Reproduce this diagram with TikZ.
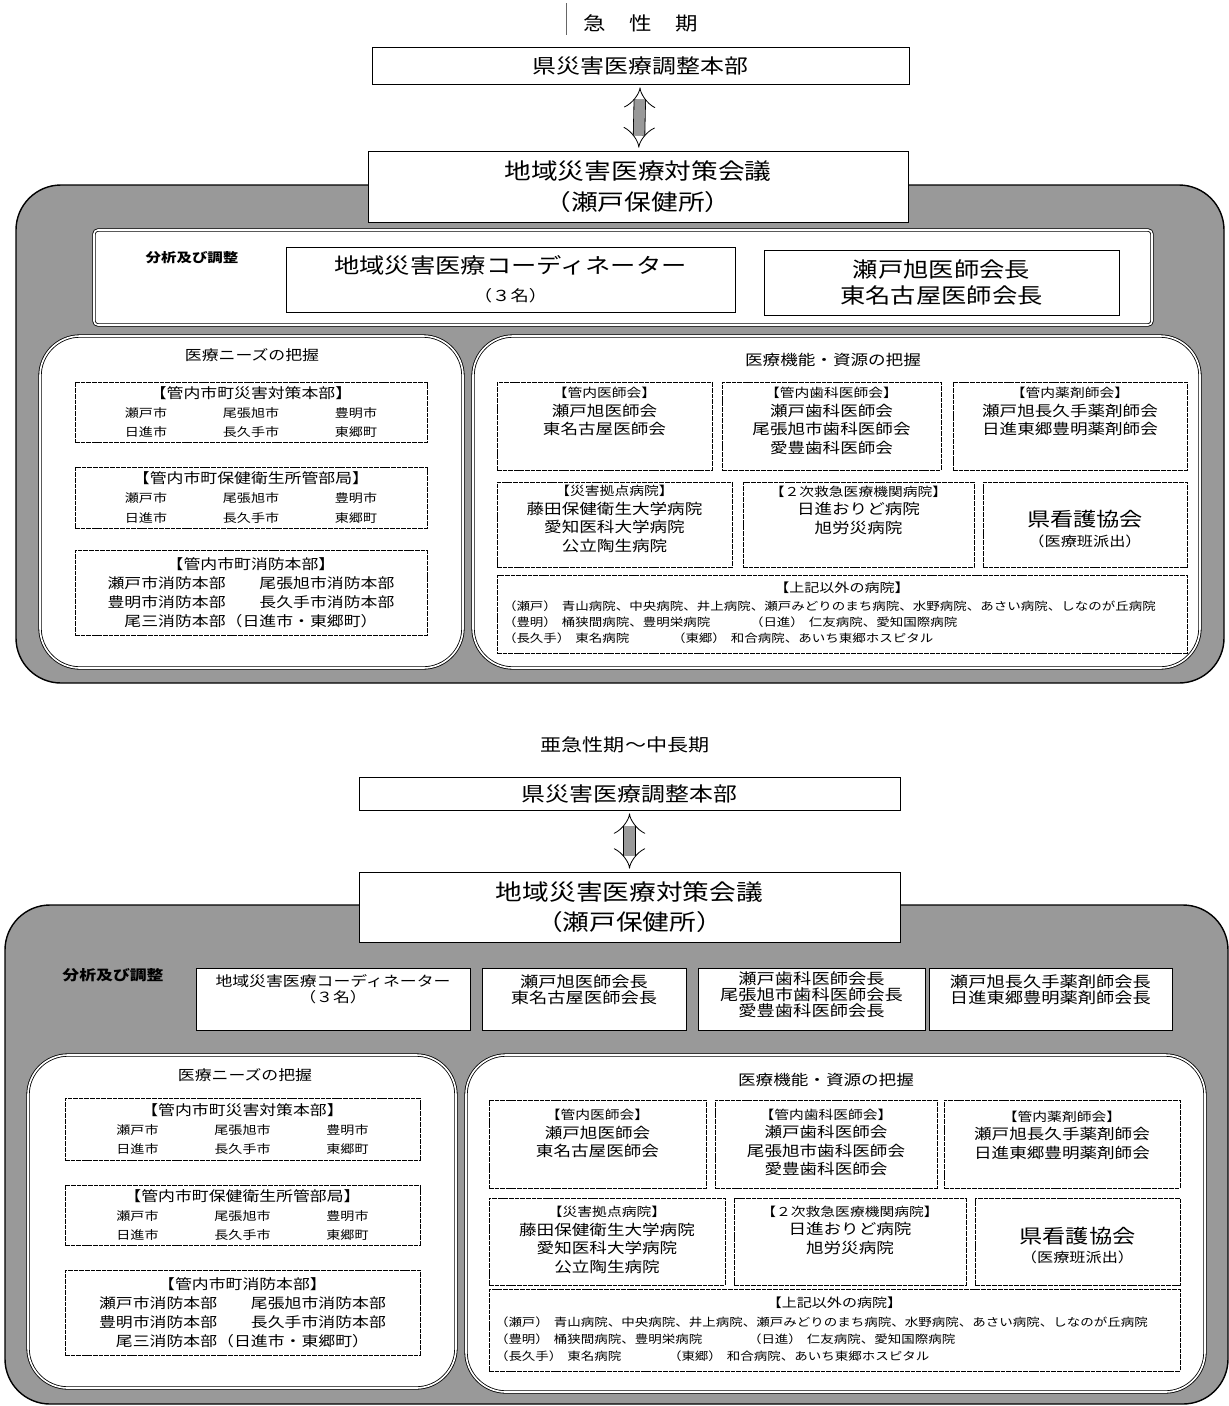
\documentclass[tikz,border=0pt]{standalone}
\usepackage{fontspec}
\setmainfont[FakeStretch=1.2]{Noto Sans CJK JP}
\usetikzlibrary{positioning, arrows.meta}

\newcommand{\fsz}[2]{\fontsize{#1pt}{#2pt}\selectfont}
\newcommand{\citylist}{%
  \makebox[31.5mm]{瀬戸市}\makebox[31.5mm]{尾張旭市}\makebox[31.5mm]{豊明市}\\
  \makebox[31.5mm]{日進市}\makebox[31.5mm]{長久手市}\makebox[31.5mm]{東郷町}}

\begin{document}
\begin{tikzpicture}[
    x=0.3mm, y=-0.3mm,
    every node/.style={inner sep=0pt, outer sep=0pt},
    sz/.style 2 args={minimum width={#1*0.3mm}, minimum height={#2*0.3mm}},
    hdr/.style={draw, line width=0.7pt, fill=white, align=center},
    ibox/.style={draw, line width=0.5pt, dash pattern=on 4pt off 0.8pt, fill=white, align=center},
    panel/.style={draw, fill=white, line width=0.7pt, double=white, double distance=1.4pt, rounded corners=12mm},
    zone/.style={draw, line width=1.2pt, fill=black!40, rounded corners=13.5mm},
    link/.style={double=black!40, double distance=3.2mm, line width=0.7pt, {Implies}-{Implies},
                 shorten <=1mm, shorten >=1mm},
    txt/.style={align=center, font=\fsz{12.5}{15.8}},
    list/.style={anchor=west, font=\fsz{9.6}{12}}
]
\useasboundingbox (0,0) rectangle (1229,1406);

% ---------------- acute phase ----------------
\draw[zone] (16,185) rectangle (1224,683);
\draw[black!60, line width=0.4pt] (566,3) -- (566,35);
\node[font=\fsz{16}{19}] (acute) at (641,23) {急\hspace{7mm}性\hspace{7mm}期};

\node[hdr, sz={537}{37}, font=\fsz{17}{20}] (hq1) at (640.5,65.5) {県災害医療調整本部};
\node[hdr, sz={540}{71}, font=\fsz{19}{26}] (mtg1) at (638,186.5) {地域災害医療対策会議\\（瀬戸保健所）};
\draw[link] (hq1) -- (mtg1);

\draw[panel, rounded corners=1.2mm] (94,230) rectangle (1152,325);
\node[font=\bfseries\fsz{11}{13}] (ana1) at (192,258) {分析及び調整};
\node[hdr, sz={449}{65}, font=\fsz{18}{24}] (coord1) at (510.5,279.5) {地域災害医療コーディネーター\\{\fsz{13}{24}（３名）}};
\node[hdr, sz={355}{65}, font=\fsz{18}{23}] (chief1) at (941.5,282.5) {瀬戸旭医師会長\\東名古屋医師会長};

% needs
\draw[panel] (40,336) rectangle (463,668);
\node[font=\fsz{12}{14}] (needs1) at (252,355) {医療ニーズの把握};
\node[ibox, sz={352}{60}, font=\fsz{10}{16.6}] (city1) at (251,412)
    {{\fsz{12}{16.6}【管内市町災害対策本部】}\\\citylist};
\node[ibox, sz={352}{61}, font=\fsz{10}{16.6}] (health1) at (251,497.5)
    {{\fsz{12}{16.6}【管内市町保健衛生所管部局】}\\\citylist};
\node[ibox, sz={352}{85}, font=\fsz{12}{16.2}] (fire1) at (251,592.5)
    {【管内市町消防本部】\\瀬戸市消防本部　　尾張旭市消防本部\\豊明市消防本部　　長久手市消防本部\\尾三消防本部（日進市・東郷町）};

% resources
\draw[panel] (473,336) rectangle (1200,668);
\node[font=\fsz{12.5}{15}] (res1) at (833,360) {医療機能・資源の把握};

\node[ibox, sz={215}{88}] (dr1) at (604.5,426) {};
\node[txt] (dr1t) at (604.5,411.5) {{\fsz{10.5}{15.8}【管内医師会】}\\瀬戸旭医師会\\東名古屋医師会};
\node[ibox, sz={219}{88}] (dent1) at (831.5,426) {};
\node[txt] (dent1t) at (831.5,421) {{\fsz{10.5}{15.8}【管内歯科医師会】}\\瀬戸歯科医師会\\尾張旭市歯科医師会\\愛豊歯科医師会};
\node[ibox, sz={234}{88}] (pharm1) at (1070,426) {};
\node[txt] (pharm1t) at (1070,411.5) {{\fsz{10.5}{15.8}【管内薬剤師会】}\\瀬戸旭長久手薬剤師会\\日進東郷豊明薬剤師会};

\node[ibox, sz={235}{85}] (base1) at (614.5,524.5) {};
\node[txt] (base1t) at (614.5,519) {{\fsz{10.5}{15.8}【災害拠点病院】}\\藤田保健衛生大学病院\\愛知医科大学病院\\公立陶生病院};
\node[ibox, sz={231}{85}] (sec1) at (858.5,524.5) {};
\node[txt] (sec1t) at (858.5,510) {{\fsz{10.5}{15.8}【２次救急医療機関病院】}\\日進おりど病院\\旭労災病院};
\node[ibox, sz={204}{85}] (nurse1) at (1085,524.5) {};
\node[font=\fsz{16.5}{20}] (nurse1a) at (1085,519) {県看護協会};
\node[font=\fsz{11.5}{14}] (nurse1b) at (1085,541) {（医療班派出）};

\node[ibox, sz={690}{78}] (other1) at (842,614) {};
\node[font=\fsz{10.7}{13}] (other1t) at (842,588) {【上記以外の病院】};
\node[list] (seto1) at (503,606) {（瀬戸）\hspace{1.5mm}青山病院、中央病院、井上病院、瀬戸みどりのまち病院、水野病院、あさい病院、しなのが丘病院};
\node[list] (toyo1) at (503,622) {（豊明）\hspace{1.5mm}桶狭間病院、豊明栄病院};
\node[list] (nis1) at (750,622) {（日進）\hspace{1.5mm}仁友病院、愛知国際病院};
\node[list] (naga1) at (503,638) {（長久手）\hspace{1.5mm}東名病院};
\node[list] (togo1) at (672,638) {（東郷）\hspace{1.5mm}和合病院、あいち東郷ホスピタル};

% ---------------- sub-acute to mid/long term ----------------
\draw[zone] (5,905) rectangle (1228,1404);
\node[font=\fsz{15}{18}] (subacute) at (625,745) {亜急性期～中長期};

\node[hdr, sz={541}{33}, font=\fsz{17}{20}] (hq2) at (629.5,793.5) {県災害医療調整本部};
\node[hdr, sz={541}{70}, font=\fsz{19}{26}] (mtg2) at (629.5,907) {地域災害医療対策会議\\（瀬戸保健所）};
\draw[link] (hq2) -- (mtg2);

\node[font=\bfseries\fsz{12}{14}] (ana2) at (113,975) {分析及び調整};
\node[hdr, line width=0.6pt, sz={274}{62}] (coord2) at (333,999) {};
\node[txt, font=\fsz{12}{13.5}] (coord2t) at (333,989.5) {地域災害医療コーディネーター\\（３名）};
\node[hdr, line width=0.6pt, sz={204}{62}] (chief2) at (584,999) {};
\node[txt, font=\fsz{13}{13.8}] (chief2t) at (584,989.5) {瀬戸旭医師会長\\東名古屋医師会長};
\node[hdr, line width=0.6pt, sz={227}{62}] (chief2d) at (811.5,999) {};
\node[txt, font=\fsz{13}{13.8}] (chief2dt) at (811.5,995) {瀬戸歯科医師会長\\尾張旭市歯科医師会長\\愛豊歯科医師会長};
\node[hdr, line width=0.6pt, sz={243}{62}] (chief2p) at (1050.5,999) {};
\node[txt, font=\fsz{13}{13.8}] (chief2pt) at (1050.5,989.5) {瀬戸旭長久手薬剤師会長\\日進東郷豊明薬剤師会長};

% needs
\draw[panel] (28,1055) rectangle (456,1388);
\node[font=\fsz{12}{14}] (needs2) at (245,1075) {医療ニーズの把握};
\node[ibox, sz={355}{62}, font=\fsz{10}{16.2}] (city2) at (242.5,1129)
    {{\fsz{12}{16.2}【管内市町災害対策本部】}\\\citylist};
\node[ibox, sz={355}{60}, font=\fsz{10}{16.2}] (health2) at (242.5,1215)
    {{\fsz{12}{16.2}【管内市町保健衛生所管部局】}\\\citylist};
\node[ibox, sz={355}{85}, font=\fsz{12}{16.2}] (fire2) at (242.5,1312.5)
    {【管内市町消防本部】\\瀬戸市消防本部　　尾張旭市消防本部\\豊明市消防本部　　長久手市消防本部\\尾三消防本部（日進市・東郷町）};

% resources
\draw[panel] (466,1055) rectangle (1205,1392);
\node[font=\fsz{12.5}{15}] (res2) at (826,1080) {医療機能・資源の把握};

\node[ibox, sz={217}{88}] (dr2) at (597.5,1144) {};
\node[txt] (dr2t) at (597.5,1133.5) {{\fsz{10.5}{15.8}【管内医師会】}\\瀬戸旭医師会\\東名古屋医師会};
\node[ibox, sz={222}{88}] (dent2) at (826,1144) {};
\node[txt] (dent2t) at (826,1142.5) {{\fsz{10.5}{15.8}【管内歯科医師会】}\\瀬戸歯科医師会\\尾張旭市歯科医師会\\愛豊歯科医師会};
\node[ibox, sz={236}{88}] (pharm2) at (1062,1144) {};
\node[txt] (pharm2t) at (1062,1135) {{\fsz{10.5}{15.8}【管内薬剤師会】}\\瀬戸旭長久手薬剤師会\\日進東郷豊明薬剤師会};

\node[ibox, sz={236}{87}] (base2) at (607,1241.5) {};
\node[txt] (base2t) at (607,1240) {{\fsz{10.5}{15.8}【災害拠点病院】}\\藤田保健衛生大学病院\\愛知医科大学病院\\公立陶生病院};
\node[ibox, sz={232}{87}] (sec2) at (850,1241.5) {};
\node[txt] (sec2t) at (850,1230) {{\fsz{10.5}{15.8}【２次救急医療機関病院】}\\日進おりど病院\\旭労災病院};
\node[ibox, sz={205}{87}] (nurse2) at (1077.5,1241.5) {};
\node[font=\fsz{16.5}{20}] (nurse2a) at (1077.5,1236) {県看護協会};
\node[font=\fsz{11.5}{14}] (nurse2b) at (1077.5,1257) {（医療班派出）};

\node[ibox, sz={691}{82}] (other2) at (834.5,1330) {};
\node[font=\fsz{10.7}{13}] (other2t) at (834.5,1303) {【上記以外の病院】};
\node[list] (seto2) at (495,1322) {（瀬戸）\hspace{1.5mm}青山病院、中央病院、井上病院、瀬戸みどりのまち病院、水野病院、あさい病院、しなのが丘病院};
\node[list] (toyo2) at (495,1339) {（豊明）\hspace{1.5mm}桶狭間病院、豊明栄病院};
\node[list] (nis2) at (748,1339) {（日進）\hspace{1.5mm}仁友病院、愛知国際病院};
\node[list] (naga2) at (495,1356) {（長久手）\hspace{1.5mm}東名病院};
\node[list] (togo2) at (668,1356) {（東郷）\hspace{1.5mm}和合病院、あいち東郷ホスピタル};

\end{tikzpicture}
\end{document}
